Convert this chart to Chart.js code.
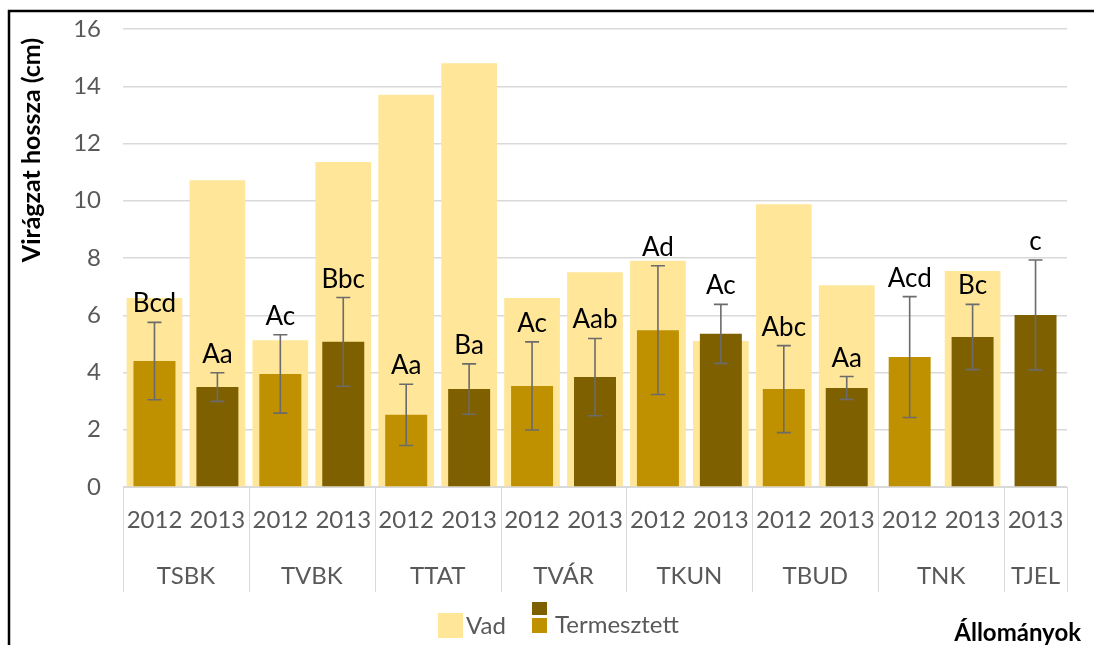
<!DOCTYPE html>
<html>
<head>
<meta charset="utf-8">
<script src="https://cdn.jsdelivr.net/npm/chart.js@4"></script>
<style>
  body { margin: 0; background: #fff; }
  canvas { display: block; }
</style>
</head>
<body>
<canvas id="chart" width="1094" height="645"></canvas>
<script>
// data
const years = ['2012','2013','2012','2013','2012','2013','2012','2013','2012','2013','2012','2013','2012','2013','2013'];
const stations = ['TSBK','TVBK','TTAT','TVÁR','TKUN','TBUD','TNK','TJEL'];
const stationSpan = [2, 2, 2, 2, 2, 2, 2, 1];
const vad = [6.6, 10.72, 5.13, 11.35, 13.7, 14.8, 6.6, 7.5, 7.9, 5.1, 9.88, 7.05, null, 7.55, null];
const termesztett = [4.4, 3.49, 3.95, 5.07, 2.52, 3.42, 3.53, 3.84, 5.48, 5.35, 3.42, 3.46, 4.54, 5.24, 6.01];
const sd = [1.35, 0.5, 1.37, 1.55, 1.07, 0.88, 1.54, 1.35, 2.25, 1.03, 1.52, 0.4, 2.11, 1.14, 1.92];
const letters = ['Bcd','Aa','Ac','Bbc','Aa','Ba','Ac','Aab','Ad','Ac','Abc','Aa','Acd','Bc','c'];
const yTicks = [0, 2, 4, 6, 8, 10, 12, 14, 16];

const FONT = 'Lato, "Open Sans", sans-serif';
const GRAY = '#595959';
const GRID = '#D9D9D9';
const VAD_COLOR = '#FFE699';
const C2012 = '#BF9000';
const C2013 = '#7F6000';

const extras = {
  id: 'extras',
  beforeDraw(chart) {
    const ctx = chart.ctx;
    ctx.save();
    ctx.fillStyle = '#fff';
    ctx.fillRect(0, 0, chart.width, chart.height);
    ctx.strokeStyle = '#000';
    ctx.lineWidth = 2.5;
    ctx.strokeRect(9, 11, 1200, 1000);
    ctx.restore();
  },
  afterDatasetsDraw(chart) {
    const ctx = chart.ctx;
    const x = chart.scales.x, y = chart.scales.y;
    const meta = chart.getDatasetMeta(0);
    ctx.save();
    // error bars
    ctx.strokeStyle = '#6b6b6b';
    ctx.lineWidth = 1.6;
    meta.data.forEach((bar, i) => {
      const top = y.getPixelForValue(termesztett[i] + sd[i]);
      const bot = y.getPixelForValue(termesztett[i] - sd[i]);
      ctx.beginPath();
      ctx.moveTo(bar.x, top); ctx.lineTo(bar.x, bot);
      ctx.moveTo(bar.x - 7, top); ctx.lineTo(bar.x + 7, top);
      ctx.moveTo(bar.x - 7, bot); ctx.lineTo(bar.x + 7, bot);
      ctx.stroke();
      // letters
      ctx.fillStyle = '#000';
      ctx.font = '26px ' + FONT;
      ctx.textAlign = 'center';
      ctx.textBaseline = 'alphabetic';
      ctx.fillText(letters[i], bar.x, top - 10);
    });

    // station groups under the year labels
    const cw = x.width / years.length;
    ctx.strokeStyle = GRID;
    ctx.lineWidth = 1;
    ctx.fillStyle = GRAY;
    ctx.font = '24px ' + FONT;
    ctx.textBaseline = 'middle';
    let idx = 0;
    const b0 = y.getPixelForValue(0);
    stations.forEach((s, k) => {
      const left = x.getPixelForValue(idx) - cw / 2;
      const right = x.getPixelForValue(idx + stationSpan[k] - 1) + cw / 2;
      ctx.beginPath();
      ctx.moveTo(Math.round(left) + 0.5, b0); ctx.lineTo(Math.round(left) + 0.5, b0 + 105);
      if (k === stations.length - 1) {
        ctx.moveTo(Math.round(right) + 0.5, b0); ctx.lineTo(Math.round(right) + 0.5, b0 + 105);
      }
      ctx.stroke();
      ctx.fillText(s, (left + right) / 2, b0 + 89);
      idx += stationSpan[k];
    });

    // legend
    ctx.fillStyle = VAD_COLOR;
    ctx.fillRect(438, 613, 25, 25);
    ctx.fillStyle = C2013;
    ctx.fillRect(532, 602, 15, 13);
    ctx.fillStyle = C2012;
    ctx.fillRect(532, 618, 15, 15);
    ctx.fillStyle = GRAY;
    ctx.textAlign = 'left';
    ctx.fillText('Vad', 466, 626);
    ctx.fillText('Termesztett', 555, 625);

    // axis titles
    ctx.fillStyle = '#000';
    ctx.font = 'bold 24px ' + FONT;
    ctx.textAlign = 'right';
    ctx.fillText('Állományok', 1081, 633);
    ctx.translate(32, 150);
    ctx.rotate(-Math.PI / 2);
    ctx.textAlign = 'center';
    ctx.font = 'bold 25px ' + FONT;
    ctx.fillText('Virágzat hossza (cm)', 0, 0);
    ctx.restore();
  }
};

new Chart(document.getElementById('chart'), {
  type: 'bar',
  data: {
    labels: years,
    datasets: [
      {
        label: 'Termesztett',
        data: termesztett,
        backgroundColor: years.map(yr => yr === '2012' ? C2012 : C2013),
        grouped: false,
        categoryPercentage: 1,
        barPercentage: 0.667,
        order: 1
      },
      {
        label: 'Vad',
        data: vad,
        backgroundColor: VAD_COLOR,
        grouped: false,
        categoryPercentage: 1,
        barPercentage: 0.885,
        order: 2
      }
    ]
  },
  options: {
    responsive: false,
    animation: false,
    layout: { padding: { left: 0, right: 27, top: 29, bottom: 0 } },
    plugins: { legend: { display: false }, tooltip: { enabled: false } },
    scales: {
      x: {
        grid: { display: false, drawTicks: false },
        border: { color: GRID },
        ticks: { color: GRAY, font: { family: FONT, size: 24 }, padding: 19, autoSkip: false, maxRotation: 0 },
        afterFit: s => { s.height = 158; }
      },
      y: {
        min: 0, max: 16,
        afterBuildTicks: s => { s.ticks = yTicks.map(v => ({ value: v })); },
        grid: { color: GRID, lineWidth: 1.5, drawTicks: false },
        border: { display: false },
        ticks: { color: GRAY, font: { family: FONT, size: 24 }, padding: 22 },
        afterFit: s => { s.width = 123; s.paddingTop = 0; s.paddingBottom = 0; }
      }
    }
  },
  plugins: [extras]
});
</script>
</body>
</html>
